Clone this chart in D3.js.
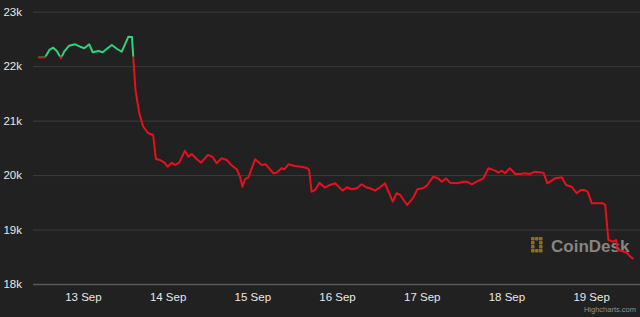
<!DOCTYPE html>
<html>
<head>
<meta charset="utf-8">
<script src="https://cdn.jsdelivr.net/npm/d3@7"></script>
<style>
  html, body { margin: 0; padding: 0; background: #212121; }
  svg { display: block; font-family: "Liberation Sans", Arial, sans-serif; }
</style>
</head>
<body>
<div id="chart"></div>
<script>
// hours since 12 Sep 00:00 (UTC) and BTC price in USD
var hours = [11.3, 13.3, 14.5, 15.6, 16.6, 17.8, 18.7, 20.1, 21.8, 23.2,
    24.4, 25.8, 26.8, 28.4, 29.6, 31.0, 32.2, 33.7, 35.0, 36.9,
    37.9, 38.9, 39.9, 41.0, 42.4, 43.9, 44.7, 45.8, 47.1, 48.0,
    49.2, 50.1, 51.3, 52.9, 53.9, 54.8, 56.3, 57.5, 59.4, 60.7,
    61.9, 63.3, 64.8, 66.0, 67.6, 68.5, 69.2, 69.9, 70.9, 72.8,
    74.7, 75.8, 78.0, 78.9, 80.3, 81.1, 82.2, 84.1, 86.0, 87.6,
    88.1, 88.8, 89.8, 91.0, 92.6, 94.0, 95.5, 96.9, 97.6, 98.8,
    100.2, 101.6, 103.0, 104.2, 105.3, 106.8, 108.2, 109.6, 111.8, 112.9,
    113.9, 115.9, 117.5, 118.8, 120.3, 121.4, 123.3, 124.7, 125.7, 126.9,
    128.0, 129.9, 131.8, 132.8, 134.2, 135.6, 137.5, 138.9, 140.8, 141.7,
    142.7, 143.6, 145.0, 146.5, 147.9, 149.3, 150.7, 152.1, 154.5, 155.6,
    157.8, 159.7, 160.9, 162.5, 163.9, 165.1, 166.0, 167.0, 168.2, 169.6,
    171.3, 172.0, 172.9, 174.3, 175.1, 175.5, 176.7, 178.1, 179.1, 180.0];

var prices = [22159, 22163, 22297, 22339, 22278, 22144, 22266, 22376, 22401, 22357,
    22328, 22401, 22255, 22278, 22255, 22328, 22389, 22315, 22266, 22541,
    22535, 21563, 21158, 20901, 20773, 20736, 20295, 20278, 20228, 20154,
    20228, 20186, 20228, 20448, 20338, 20387, 20290, 20228, 20369, 20338,
    20217, 20308, 20277, 20186, 20107, 19971, 19787, 19923, 19960, 20290,
    20185, 20198, 20033, 20044, 20125, 20107, 20198, 20167, 20154, 20125,
    20094, 19695, 19726, 19860, 19769, 19818, 19849, 19758, 19714, 19776,
    19739, 19758, 19831, 19776, 19758, 19714, 19776, 19849, 19512, 19666,
    19635, 19451, 19574, 19739, 19758, 19800, 19971, 19938, 19879, 19941,
    19860, 19849, 19879, 19879, 19831, 19879, 19941, 20125, 20081, 20044,
    20081, 20033, 20125, 20020, 20020, 20033, 20020, 20062, 20044, 19849,
    19941, 19960, 19818, 19787, 19666, 19726, 19726, 19695, 19482, 19482,
    19482, 19451, 18808, 18777, 18808, 18625, 18606, 18575, 18502, 18460];

var yTicks = [18000, 19000, 20000, 21000, 22000, 23000];
var dayTicks = ["2022-09-13", "2022-09-14", "2022-09-15", "2022-09-16", "2022-09-17", "2022-09-18", "2022-09-19"];
var openPrice = 22175; // zone threshold: green above, red below

var width = 640, height = 317;
var plotLeft = 33, plotRight = 640;
var dayPx = 84.7, firstDayX = 82.9;

var base = Date.UTC(2022, 8, 12);
var data = hours.map(function(h, i) {
    return { date: new Date(base + h * 3600e3), price: prices[i] };
});

var x = d3.scaleUtc()
    .domain([new Date(Date.UTC(2022, 8, 12)), new Date(Date.UTC(2022, 8, 20))])
    .range([firstDayX - dayPx, firstDayX + dayPx * 7]);

var y = d3.scaleLinear()
    .domain([18000, 23000])
    .range([284, 11.7]);

var svg = d3.select("#chart").append("svg")
    .attr("width", width)
    .attr("height", height);

svg.append("rect")
    .attr("width", width)
    .attr("height", height)
    .attr("fill", "#212121");

// horizontal grid + y labels
var yAxis = d3.axisLeft(y)
    .tickValues(yTicks)
    .tickSize(-(plotRight - plotLeft))
    .tickPadding(11)
    .tickFormat(function(d) { return (d / 1000) + "k"; });

var gy = svg.append("g")
    .attr("transform", "translate(" + plotLeft + ",0)")
    .call(yAxis);
gy.select(".domain").remove();
gy.selectAll(".tick line")
    .attr("stroke", function(d) { return d === 18000 ? "#5a5a5a" : "#3c3c3c"; })
    .attr("stroke-width", function(d) { return d === 18000 ? 1.6 : 1; });
gy.selectAll(".tick text")
    .attr("fill", "#e8e8e8")
    .attr("font-size", "11.5px");

// x axis labels
var xAxis = d3.axisBottom(x)
    .tickValues(dayTicks.map(function(s) { return new Date(s + "T00:00:00Z"); }))
    .tickSize(0)
    .tickPadding(9)
    .tickFormat(d3.utcFormat("%-d %b"));

var gx = svg.append("g")
    .attr("transform", "translate(0,284)")
    .call(xAxis);
gx.select(".domain").remove();
gx.selectAll(".tick text")
    .attr("fill", "#e8e8e8")
    .attr("font-size", "11.5px");

// watermark
var wm = svg.append("g").attr("transform", "translate(531,237)");
var iconCells = [[0,0],[4,0],[8,0],[0,4],[0,8],[0,12],[4,12],[8,12],[8,4],[8,8]];
wm.selectAll("rect.icon")
    .data(iconCells)
    .enter().append("rect")
    .attr("class", "icon")
    .attr("x", function(d) { return d[0]; })
    .attr("y", function(d) { return d[1]; })
    .attr("width", 3.6)
    .attr("height", 3.6)
    .attr("rx", 0.8)
    .attr("fill", "#8a6f22");
wm.append("text")
    .attr("x", 20)
    .attr("y", 14.5)
    .attr("fill", "#858585")
    .attr("font-size", "17px")
    .attr("font-weight", "bold")
    .text("CoinDesk");

// price line, split by threshold
var line = d3.line()
    .x(function(d) { return x(d.date); })
    .y(function(d) { return y(d.price); });

var defs = svg.append("defs");
defs.append("clipPath").attr("id", "above")
    .append("rect")
    .attr("x", plotLeft).attr("y", 0)
    .attr("width", plotRight - plotLeft).attr("height", y(openPrice));
defs.append("clipPath").attr("id", "below")
    .append("rect")
    .attr("x", plotLeft).attr("y", y(openPrice))
    .attr("width", plotRight - plotLeft).attr("height", height - y(openPrice));

svg.append("path")
    .datum(data)
    .attr("clip-path", "url(#above)")
    .attr("fill", "none")
    .attr("stroke", "#32d27a")
    .attr("stroke-width", 2)
    .attr("stroke-linejoin", "round")
    .attr("d", line);

svg.append("path")
    .datum(data)
    .attr("clip-path", "url(#below)")
    .attr("fill", "none")
    .attr("stroke", "#e8101c")
    .attr("stroke-width", 2)
    .attr("stroke-linejoin", "round")
    .attr("d", line);

// credits
svg.append("text")
    .attr("x", 636)
    .attr("y", 312)
    .attr("text-anchor", "end")
    .attr("fill", "#909090")
    .attr("font-size", "7.5px")
    .text("Highcharts.com");
</script>
</body>
</html>
